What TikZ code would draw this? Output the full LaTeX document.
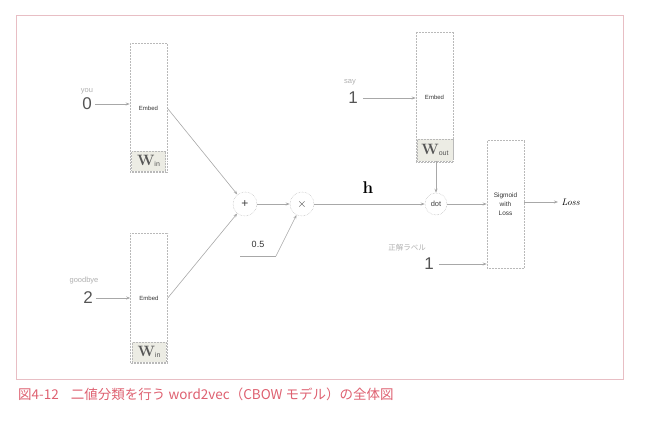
\documentclass[tikz,border=0pt]{standalone}
\usepackage{fontspec}
\usetikzlibrary{arrows.meta,calc}
\newfontfamily\lab{Liberation Sans}
\newfontfamily\jp{Noto Sans CJK JP}
\definecolor{framepink}{RGB}{232,190,196}
\definecolor{capred}{RGB}{222,96,112}
\definecolor{linegray}{RGB}{168,168,168}
\definecolor{boxgray}{RGB}{185,185,185}
\definecolor{wfill}{RGB}{236,236,228}
\definecolor{numgray}{RGB}{85,85,85}
\definecolor{lblgray}{RGB}{175,175,175}
\newcommand{\wsym}[1]{{\fontsize{15}{15}\selectfont\bfseries W}\raisebox{-1pt}{\lab\fontsize{7}{7}\selectfont #1}}
\begin{document}
\begin{tikzpicture}[x=1pt,y=-1pt,
  embbox/.style={draw=boxgray,densely dotted,line width=0.5pt,minimum width=37pt,minimum height=129pt,inner sep=0pt,font=\lab\fontsize{6}{7}\selectfont,text=black!80},
  wbox/.style={draw=boxgray,densely dotted,fill=wfill,line width=0.5pt,minimum width=34pt,minimum height=20pt,inner sep=0pt,text=numgray},
  opnode/.style={circle,draw=boxgray,densely dotted,line width=0.5pt,minimum size=24pt,inner sep=0pt,font=\lab\fontsize{12}{12}\selectfont,text=black!75},
  num/.style={font=\lab\fontsize{17}{17}\selectfont,text=numgray,inner sep=1pt},
  wordlbl/.style={font=\lab\fontsize{7.5}{8}\selectfont,text=lblgray,inner sep=0pt},
  conn/.style={draw=linegray,line width=0.6pt,-{Stealth[length=4pt,width=3pt]}},
  plainconn/.style={draw=linegray,line width=0.6pt}
]
\useasboundingbox (0,0) rectangle (645,433);
\node[draw=framepink,line width=1pt,minimum width=607pt,minimum height=363pt,inner sep=0pt] (frame) at (319.5,197.5) {};

% embed boxes
\node[embbox] (emb1) at (148.5,108) {Embed};
\node[wbox] (win1) at (148.5,161) {\wsym{in}};
\node[embbox,minimum height=130pt] (emb2) at (149,298) {Embed};
\node[wbox] (win2) at (149,352) {\wsym{in}};
\node[embbox,minimum height=130pt] (emb3) at (434.5,97) {Embed};
\node[wbox,minimum width=36pt,minimum height=22pt] (wout) at (435,150) {\wsym{out}};
\node[embbox,minimum height=128pt,align=center,font=\lab\fontsize{6.5}{9}\selectfont] (sig) at (505.5,204) {Sigmoid\\with\\Loss};

% operators
\node[opnode] (plus) at (245,204) {+};
\node[opnode] (times) at (302,204) {$\times$};
\node[opnode,minimum size=22pt,font=\lab\fontsize{7.5}{7.5}\selectfont] (dot) at (436,204) {dot};

% inputs
\node[wordlbl] (you) at (87,91) {you};
\node[num] (n0) at (87,104) {0};
\node[wordlbl] (goodbye) at (84,281) {goodbye};
\node[num] (n2) at (88,298) {2};
\node[wordlbl] (say) at (350,82) {say};
\node[num] (n1a) at (353,98) {1};
\node[wordlbl,font=\jp\fontsize{7.5}{8}\selectfont] (seikai) at (407,248) {正解ラベル};
\node[num] (n1b) at (429,264) {1};
\node[font=\lab\fontsize{9}{9}\selectfont,text=black!80] (half) at (258,244) {0.5};
\coordinate (halfL) at (240,256);
\coordinate (halfR) at (276,256);
\node[font=\fontsize{17}{17}\selectfont\bfseries] (h) at (368,188) {h};
\node[font=\fontsize{9.5}{10}\selectfont\itshape,anchor=west] (loss) at (558,202) {Loss};

% connectors
\draw[conn] (n0.east) ++(2,0) -- (emb1.west |- n0.east);
\draw[conn] (n2.east) ++(2,0) -- (emb2.west |- n2.east);
\draw[conn] (n1a.east) ++(4,0) -- (emb3.west |- n1a.east);
\draw[conn] (emb1.east) -- (plus);
\draw[conn] (emb2.east) -- (plus);
\draw[conn] (plus) -- (times);
\draw[plainconn] (halfL) -- (halfR);
\draw[conn] (halfR) -- (times);
\draw[conn] (times) -- (dot);
\draw[conn] (wout.south -| dot.north) -- (dot.north);
\draw[conn] (dot) -- (dot.east -| sig.west);
\draw[conn] (n1b.east) ++(4,0) -- (sig.west |- n1b.east);
\draw[conn] (sig.east |- loss.west) -- (loss.west);

% caption
\node[anchor=west,inner sep=0pt,text=capred,font=\jp\fontsize{13.5}{14}\selectfont] (cap) at (18,394) {図4-12\hspace{0.9em}二値分類を行う word2vec（CBOW モデル）の全体図};
\end{tikzpicture}
\end{document}
